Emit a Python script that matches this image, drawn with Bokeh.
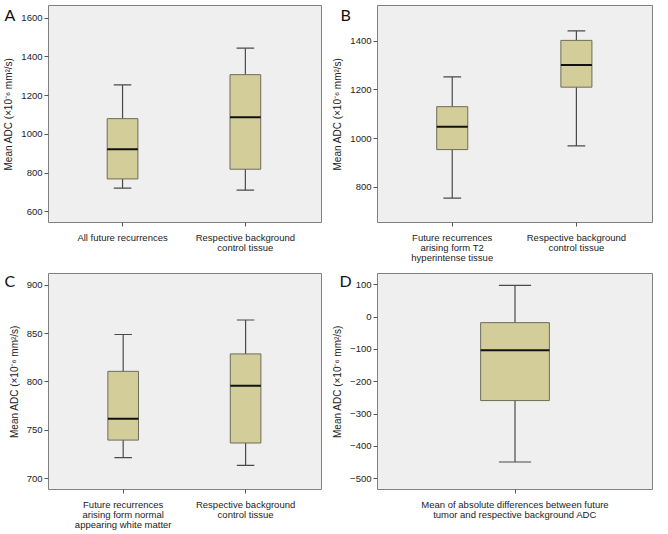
from bokeh.plotting import figure
from bokeh.layouts import gridplot
from bokeh.models import Range1d, FixedTicker, Title
from bokeh.embed import file_html
from bokeh.resources import INLINE

# ---------------- data ----------------
a_cats = ["All future recurrences", "Respective background\ncontrol tissue"]
a_lo = [722, 712]
a_q1 = [770, 820]
a_med = [923, 1088]
a_q3 = [1081, 1308]
a_hi = [1255, 1445]
a_ticks = [600, 800, 1000, 1200, 1400, 1600]

b_cats = ["Future recurrences\narising form T2\nhyperintense tissue", "Respective background\ncontrol tissue"]
b_lo = [756, 970]
b_q1 = [955, 1211]
b_med = [1049, 1302]
b_q3 = [1131, 1403]
b_hi = [1253, 1442]
b_ticks = [800, 1000, 1200, 1400]

c_cats = ["Future recurrences\narising form normal\nappearing white matter", "Respective background\ncontrol tissue"]
c_lo = [722, 714]
c_q1 = [740, 737]
c_med = [762, 796]
c_q3 = [811, 829]
c_hi = [849, 864]
c_ticks = [700, 750, 800, 850, 900]

d_cats = ["Mean of absolute differences between future\ntumor and respective background ADC"]
d_lo = [-448]
d_q1 = [-258]
d_med = [-102]
d_q3 = [-17]
d_hi = [98]
d_ticks = [-500, -400, -300, -200, -100, 0, 100]

Y_LABEL = "Mean ADC (\u00d710\u207b\u2076 mm\u00b2/s)"
FONT = "Liberation Sans"
FILL = "#d3cd9a"
BG = "#efefef"


def panel(letter, cats, lo, q1, med, q3, hi, ticks, yr, xr,
          fw, fh, left, right, top, bottom, box_w, cap_w, loff, lstand):
    p = figure(frame_width=fw, frame_height=fh, output_backend="svg",
               toolbar_location=None, x_range=Range1d(*xr), y_range=Range1d(*yr),
               min_border_left=left, min_border_right=right,
               min_border_top=top, min_border_bottom=bottom)
    p.title = Title(text=letter, align="left", offset=loff, standoff=lstand,
                    text_font="Lato", text_font_size="16px", text_font_style="normal",
                    text_color="#111111")
    p.background_fill_color = BG
    p.border_fill_color = "white"
    p.outline_line_color = "#808080"
    p.outline_line_width = 1
    p.grid.visible = False
    xs = [i + 1 for i in range(len(cats))]
    p.segment(x0=xs, y0=lo, x1=xs, y1=hi, line_color="#4a4a4a", line_width=1.2)
    p.segment(x0=[x - cap_w / 2 for x in xs], y0=hi, x1=[x + cap_w / 2 for x in xs], y1=hi,
              line_color="#4a4a4a", line_width=1.2)
    p.segment(x0=[x - cap_w / 2 for x in xs], y0=lo, x1=[x + cap_w / 2 for x in xs], y1=lo,
              line_color="#4a4a4a", line_width=1.2)
    p.vbar(x=xs, width=box_w, bottom=q1, top=q3, fill_color=FILL,
           line_color="#6e6c58", line_width=1)
    p.segment(x0=[x - box_w / 2 for x in xs], y0=med, x1=[x + box_w / 2 for x in xs], y1=med,
              line_color="#111111", line_width=2)

    p.xaxis.ticker = FixedTicker(ticks=xs)
    p.xaxis.major_label_overrides = {x: c for x, c in zip(xs, cats)}
    p.yaxis.ticker = FixedTicker(ticks=ticks)
    p.yaxis.major_label_overrides = {t: (str(t) if t >= 0 else "\u2212" + str(-t)) for t in ticks}
    for ax in (p.xaxis[0], p.yaxis[0]):
        ax.axis_line_color = None
        ax.major_tick_line_color = "#555555"
        ax.major_tick_out = 4
        ax.major_tick_in = 0
        ax.minor_tick_line_color = None
        ax.major_label_text_font = FONT
        ax.major_label_text_font_size = "9.5px"
        ax.major_label_text_color = "#222222"
        ax.major_label_text_line_height = 0.95
    p.xaxis.major_label_standoff = 5
    p.yaxis.major_label_standoff = 2
    p.yaxis.axis_label = Y_LABEL
    p.yaxis.axis_label_text_font = FONT
    p.yaxis.axis_label_text_font_size = "10px"
    p.yaxis.axis_label_text_font_style = "normal"
    p.yaxis.axis_label_text_color = "#222222"
    p.yaxis.axis_label_standoff = 4
    return p


pa = panel("A", a_cats, a_lo, a_q1, a_med, a_q3, a_hi, a_ticks, (545, 1665), (0.397, 2.62),
           273, 217, 47, 6, 5, 37, 0.25, 0.143, -44, -37)
pb = panel("B", b_cats, b_lo, b_q1, b_med, b_q3, b_hi, b_ticks, (656, 1546), (0.398, 2.613),
           275, 217, 50, 1, 5, 37, 0.25, 0.143, -37, -37)
pc = panel("C", c_cats, c_lo, c_q1, c_med, c_q3, c_hi, c_ticks, (689, 912), (0.39, 2.62),
           273, 216, 47, 6, 7, 36, 0.25, 0.143, -44, -33)
pd = panel("D", d_cats, d_lo, d_q1, d_med, d_q3, d_hi, d_ticks, (-533, 135), (0.5, 1.5),
           275, 216, 50, 1, 7, 36, 0.25, 0.117, -38, -33)

layout = gridplot([[pa, pb], [pc, pd]], toolbar_location=None)
open("out.html", "w").write(file_html(layout, INLINE))
